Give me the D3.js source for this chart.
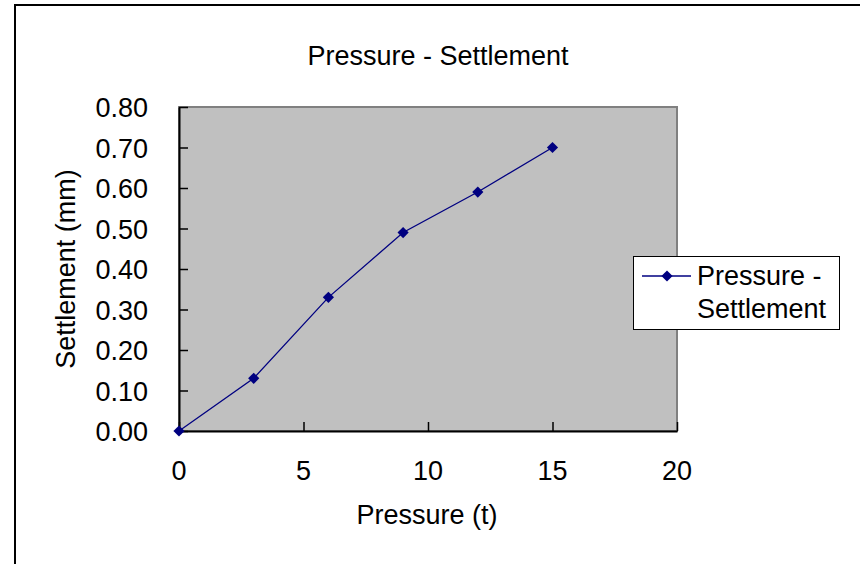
<!DOCTYPE html>
<html>
<head>
<meta charset="utf-8">
<script src="https://cdn.jsdelivr.net/npm/d3@7"></script>
<style>
  html, body { margin: 0; padding: 0; background: #fff; }
  svg { display: block; }
  text { font-family: "Liberation Sans", Arial, sans-serif; fill: #000; }
</style>
</head>
<body>
<svg id="chart" width="860" height="564"></svg>
<script>
// Load test: applied pressure (t) against measured settlement (mm)
const pressure = [0, 3, 6, 9, 12, 15];
const settlement = [0.00, 0.13, 0.33, 0.49, 0.59, 0.70];
const xTicks = [0, 5, 10, 15, 20];
const yTicks = [0, 0.1, 0.2, 0.3, 0.4, 0.5, 0.6, 0.7, 0.8];
const seriesName = ["Pressure -", "Settlement"];

const svg = d3.select("#chart");
const W = 860, H = 564;
const plot = { left: 179, top: 107, right: 677, bottom: 431 };
const navy = "#000080";
const fs = 27;

// Outer chart frame
svg.append("rect")
  .attr("x", 15).attr("y", 5)
  .attr("width", W + 10).attr("height", H + 10)
  .attr("fill", "#fff").attr("stroke", "#000").attr("stroke-width", 2);

const x = d3.scaleLinear().domain([0, 20]).range([plot.left, plot.right]);
const y = d3.scaleLinear().domain([0, 0.8]).range([plot.bottom, plot.top]);

// Plot area
svg.append("rect")
  .attr("x", plot.left).attr("y", plot.top)
  .attr("width", plot.right - plot.left).attr("height", plot.bottom - plot.top)
  .attr("fill", "#c0c0c0").attr("stroke", "#808080").attr("stroke-width", 2);

// Axes with inward tick marks
const xAxis = svg.append("g")
  .attr("transform", `translate(0,${plot.bottom})`)
  .call(d3.axisBottom(x).tickValues(xTicks).tickSizeInner(-9).tickSizeOuter(0).tickFormat(() => ""));
xAxis.select(".domain").attr("stroke", "#000").attr("stroke-width", 2);
xAxis.selectAll(".tick line").attr("stroke", "#000").attr("stroke-width", 1.5);

const yAxis = svg.append("g")
  .attr("transform", `translate(${plot.left},0)`)
  .call(d3.axisLeft(y).tickValues(yTicks).tickSizeInner(-9).tickSizeOuter(0).tickFormat(() => ""));
yAxis.select(".domain").attr("stroke", "#000").attr("stroke-width", 2);
yAxis.selectAll(".tick line").attr("stroke", "#000").attr("stroke-width", 1.5);

// Tick labels
svg.append("g").selectAll("text").data(xTicks).join("text")
  .attr("x", d => x(d)).attr("y", 480)
  .attr("text-anchor", "middle").attr("font-size", fs)
  .text(d => d3.format("d")(d));

svg.append("g").selectAll("text").data(yTicks).join("text")
  .attr("x", 148).attr("y", d => y(d) + 10)
  .attr("text-anchor", "end").attr("font-size", fs)
  .text(d => d3.format(".2f")(d));

// Series line and diamond markers
const line = d3.line().x((d, i) => x(pressure[i])).y(d => y(d));
svg.append("path")
  .datum(settlement)
  .attr("d", line)
  .attr("fill", "none").attr("stroke", navy).attr("stroke-width", 1.3);

const diamond = d3.symbol().type(d3.symbolDiamond2).size(80);
svg.append("g").selectAll("path").data(settlement).join("path")
  .attr("transform", (d, i) => `translate(${x(pressure[i])},${y(d)})`)
  .attr("d", diamond)
  .attr("fill", navy);

// Titles
svg.append("text")
  .attr("x", 438).attr("y", 65)
  .attr("text-anchor", "middle").attr("font-size", fs)
  .text("Pressure - Settlement");

svg.append("text")
  .attr("x", 427).attr("y", 524)
  .attr("text-anchor", "middle").attr("font-size", fs)
  .text("Pressure (t)");

svg.append("text")
  .attr("transform", "translate(75,269) rotate(-90)")
  .attr("text-anchor", "middle").attr("font-size", fs)
  .text("Settlement (mm)");

// Legend
const lg = svg.append("g").attr("transform", "translate(633,256)");
lg.append("rect")
  .attr("x", 0.5).attr("y", 0.5).attr("width", 206).attr("height", 73)
  .attr("fill", "#fff").attr("stroke", "#000").attr("stroke-width", 1);
lg.append("line")
  .attr("x1", 9).attr("x2", 58).attr("y1", 20).attr("y2", 20)
  .attr("stroke", navy).attr("stroke-width", 1.3);
lg.append("path")
  .attr("transform", "translate(34,20)")
  .attr("d", diamond)
  .attr("fill", navy);
lg.selectAll("text.lbl").data(seriesName).join("text")
  .attr("class", "lbl")
  .attr("x", 64).attr("y", (d, i) => 29 + i * 33)
  .attr("font-size", fs)
  .text(d => d);
</script>
</body>
</html>
